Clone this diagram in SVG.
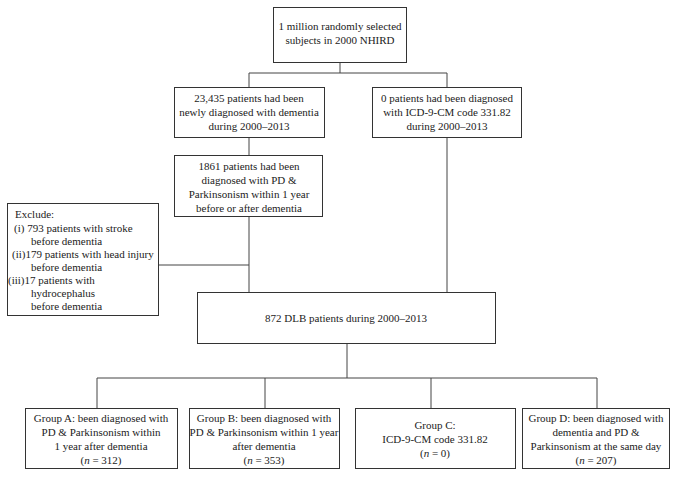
<svg xmlns="http://www.w3.org/2000/svg" width="679" height="478" viewBox="0 0 679 478">
<style>
rect{fill:#fff;stroke:#333;stroke-width:1}
.c line{stroke:#444;stroke-width:1}
text{font-family:"Liberation Serif","Times New Roman",serif;font-size:11px;fill:#222}
.m{text-anchor:middle}
</style>
<rect x="0" y="0" width="679" height="478" style="stroke:none"/>
<g class="c" id="connectors">
<line x1="340" y1="62" x2="340" y2="73"/>
<line x1="249" y1="73" x2="447" y2="73"/>
<line x1="249" y1="73" x2="249" y2="87"/>
<line x1="447" y1="73" x2="447" y2="87"/>
<line x1="249" y1="137" x2="249" y2="155"/>
<line x1="249" y1="216" x2="249" y2="292"/>
<line x1="447" y1="137" x2="447" y2="292"/>
<line x1="158" y1="265" x2="249" y2="265"/>
<line x1="347" y1="343" x2="347" y2="378"/>
<line x1="97" y1="378" x2="597" y2="378"/>
<line x1="97" y1="378" x2="97" y2="408"/>
<line x1="265" y1="378" x2="265" y2="408"/>
<line x1="431" y1="378" x2="431" y2="408"/>
<line x1="597" y1="378" x2="597" y2="408"/>
</g>
<g id="n-top">
<rect x="273.5" y="7.5" width="133" height="55"/>
<text class="m" x="340" y="30">1 million randomly selected</text>
<text class="m" x="340" y="44">subjects in 2000 NHIRD</text>
</g>
<g id="n-dementia">
<rect x="174.5" y="87.5" width="150" height="50"/>
<text class="m" x="249" y="102">23,435 patients had been</text>
<text class="m" x="249" y="116">newly diagnosed with dementia</text>
<text class="m" x="249" y="130">during 2000–2013</text>
</g>
<g id="n-icd">
<rect x="372.5" y="87.5" width="149" height="50"/>
<text class="m" x="447" y="102">0 patients had been diagnosed</text>
<text class="m" x="447" y="116">with ICD-9-CM code 331.82</text>
<text class="m" x="447" y="130">during 2000–2013</text>
</g>
<g id="n-pd">
<rect x="174.5" y="155.5" width="148" height="61"/>
<text class="m" x="249" y="170">1861 patients had been</text>
<text class="m" x="249" y="184">diagnosed with PD &amp;</text>
<text class="m" x="249" y="198">Parkinsonism within 1 year</text>
<text class="m" x="249" y="212">before or after dementia</text>
</g>
<g id="n-exclude">
<rect x="7.5" y="203.5" width="151" height="112"/>
<text x="15" y="218">Exclude:</text>
<text x="14" y="232">(i) 793 patients with stroke</text>
<text x="31" y="245">before dementia</text>
<text x="12" y="258">(ii)179 patients with head injury</text>
<text x="31" y="271">before dementia</text>
<text x="8" y="284">(iii)17 patients with</text>
<text x="31" y="297">hydrocephalus</text>
<text x="31" y="310">before dementia</text>
</g>
<g id="n-dlb">
<rect x="197.5" y="292.5" width="298" height="51"/>
<text class="m" x="346" y="322">872 DLB patients during 2000–2013</text>
</g>
<g id="n-a">
<rect x="25.5" y="408.5" width="152" height="60"/>
<text class="m" x="101" y="422">Group A: been diagnosed with</text>
<text class="m" x="101" y="436">PD &amp; Parkinsonism within</text>
<text class="m" x="101" y="450">1 year after dementia</text>
<text class="m" x="101" y="464">(<tspan font-style="italic">n</tspan> = 312)</text>
</g>
<g id="n-b">
<rect x="189.5" y="408.5" width="150" height="60"/>
<text class="m" x="264" y="422">Group B: been diagnosed with</text>
<text class="m" x="264" y="436">PD &amp; Parkinsonism within 1 year</text>
<text class="m" x="264" y="450">after dementia</text>
<text class="m" x="264" y="464">(<tspan font-style="italic">n</tspan> = 353)</text>
</g>
<g id="n-c">
<rect x="355.5" y="408.5" width="160" height="60"/>
<text class="m" x="435" y="429">Group C:</text>
<text class="m" x="435" y="443">ICD-9-CM code 331.82</text>
<text class="m" x="435" y="457">(<tspan font-style="italic">n</tspan> = 0)</text>
</g>
<g id="n-d">
<rect x="522.5" y="408.5" width="147" height="60"/>
<text class="m" x="596" y="422">Group D: been diagnosed with</text>
<text class="m" x="596" y="436">dementia and PD &amp;</text>
<text class="m" x="596" y="450">Parkinsonism at the same day</text>
<text class="m" x="596" y="464">(<tspan font-style="italic">n</tspan> = 207)</text>
</g>
</svg>
